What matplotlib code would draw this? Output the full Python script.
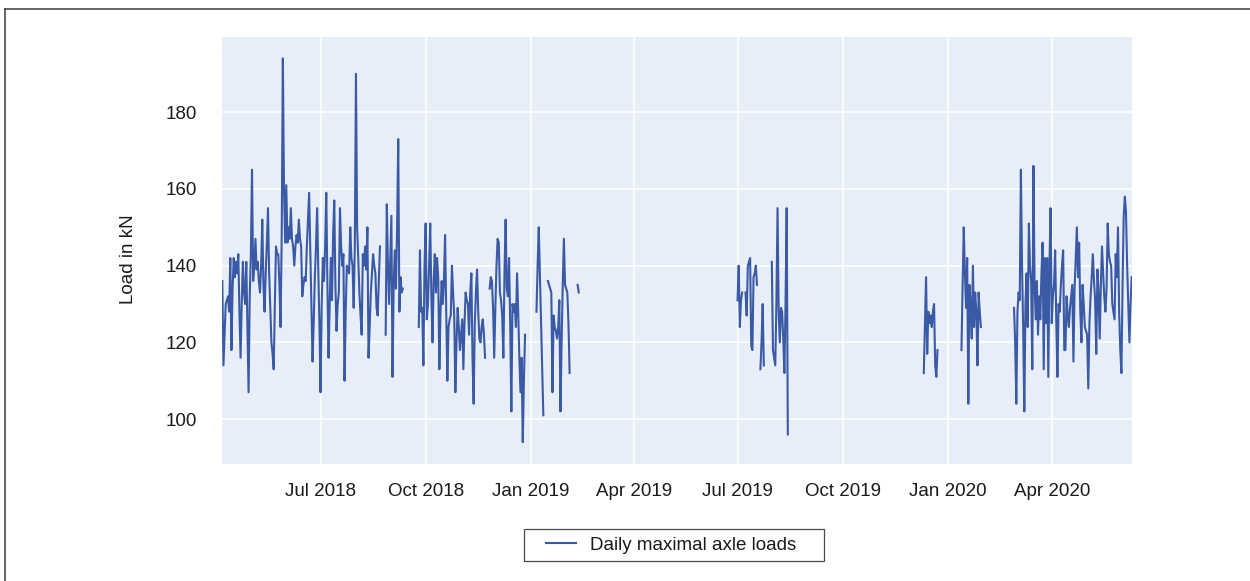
import numpy as np
import pandas as pd
import matplotlib
matplotlib.use("Agg")
import matplotlib.pyplot as plt
import matplotlib.dates as mdates
from matplotlib.lines import Line2D
from matplotlib.legend_handler import HandlerLine2D

nan = np.nan

# daily maximal axle loads in kN, one value per day from each start date
seg_a_start = "2018-04-06"
seg_a = [136, 114, 122, 130, 131, 132, 128, 142, 118, 134,
         142, 137, 141, 138, 143, 128, 116, 130, 141, 133,
         130, 141, 124, 107, 132, 143, 165, 136, 140, 147,
         139, 141, 136, 133, 140, 152, 135, 128, 138, 146,
         155, 138, 129, 120, 117, 113, 130, 145, 143, 143,
         135, 124, 148, 194, 160, 146, 161, 146, 150, 147,
         155, 147, 145, 140, 145, 148, 146, 152, 147, 145,
         132, 135, 137, 136, 145, 152, 159, 144, 130, 115,
         125, 137, 145, 155, 139, 125, 107, 130, 142, 136,
         145, 159, 135, 116, 130, 142, 131, 148, 157, 135,
         123, 130, 133, 155, 145, 140, 143, 110, 128, 140,
         139, 138, 150, 142, 140, 129, 145, 190, 150, 142,
         133, 127, 122, 143, 140, 145, 139, 150, 116, 124,
         133, 138, 143, 140, 138, 129, 127, 136, 145, nan,
         nan, nan, nan, 122, 156, 140, 130, 141, 153, 111,
         135, 144, 134, 150, 173, 128, 137, 133, 134]

seg_b_start = "2018-09-25"
seg_b = [124, 144, 128, 129, 114, 140, 151, 126, 130, 140,
         151, 132, 120, 136, 143, 133, 142, 137, 113, 128,
         136, 130, 136, 148, 128, 110, 124, 126, 127, 140,
         133, 127, 107, 120, 129, 124, 118, 122, 126, 113,
         125, 133, 131, 130, 122, 133, 138, 116, 104, 125,
         133, 139, 128, 121, 120, 124, 126, 122, 116]

seg_c_start = "2018-11-26"
seg_c = [134, 137, 136, 129, 116, 129, 140, 147, 146, 133,
         131, 127, 116, 138, 152, 134, 132, 142, 125, 102,
         130, 128, 130, 124, 138, 128, 116, 107, 116, 94,
         110, 122]

seg_d_start = "2019-01-06"
seg_d = [128, 140, 150, 138, 125, 115, 101, nan, nan, nan,
         136, 135, 134, 133, 107, 127, 124, 123, 121, 124,
         131, 102, 120, 135, 147, 135, 134, 133, 125, 112]

seg_e_start = "2019-02-11"
seg_e = [135, 133]

seg_f_start = "2019-07-01"
seg_f = [131, 140, 124, 131, 133, nan, nan, 133, 127, 140,
         141, 142, 119, 118, 137, 138, 140, 135, nan, nan,
         113, 120, 130, 114, nan, nan, nan, nan, nan, nan,
         141, 118, 116, 114, 130, 155, 128, 120, 129, 128,
         121, 112, 130, 155, 96]

seg_g_start = "2019-12-11"
seg_g = [112, 125, 137, 117, 128, 125, 127, 124, 128, 130,
         114, 111, 118]

seg_h_start = "2020-01-13"
seg_h = [118, 135, 150, 138, 129, 142, 104, 135, 130, 121,
         140, 124, 133, 128, 114, 133, 128, 124]

seg_i_start = "2020-02-28"
seg_i = [129, 120, 104, 128, 133, 131, 165, 140, 124, 102,
         130, 138, 124, 151, 140, 136, 113, 166, 135, 126,
         136, 122, 132, 126, 138, 146, 113, 142, 125, 142,
         111, 140, 155, 125, 132, 135, 144, 125, 111, 130,
         128, 135, 140, 144, 118, 118, 132, 127, 124, 129,
         132, 135, 115, 134, 142, 150, 137, 146, 128, 120,
         135, 130, 124, 123, 122, 108, 125, 132, 137, 143,
         136, 131, 117, 139, 133, 121, 135, 145, 138, 132,
         128, 134, 151, 143, 141, 140, 130, 128, 126, 143,
         137, 150, 128, 118, 112, 135, 153, 158, 154, 140,
         130, 120, 130, 137]

segments = [(seg_a_start, seg_a), (seg_b_start, seg_b), (seg_c_start, seg_c),
            (seg_d_start, seg_d), (seg_e_start, seg_e), (seg_f_start, seg_f),
            (seg_g_start, seg_g), (seg_h_start, seg_h), (seg_i_start, seg_i)]

parts = [pd.Series(vals, index=pd.date_range(start, periods=len(vals), freq="D"))
         for start, vals in segments]
loads = pd.concat(parts)
loads = loads.reindex(pd.date_range(loads.index[0], loads.index[-1], freq="D"))

plt.rcParams['font.family'] = ['Liberation Sans', 'DejaVu Sans']

fig = plt.figure(figsize=(12.5, 5.81), dpi=100)
ax = fig.add_axes([222.3 / 1250, 1 - 464 / 581, 909.4 / 1250, 427 / 581])
ax.set_facecolor('#E8EEF8')
ax.grid(color='white', linewidth=1.1)
ax.set_axisbelow(True)
for sp in ax.spines.values():
    sp.set_visible(False)

line, = ax.plot(loads.index, loads.values, color='#3A5AA6', linewidth=1.5,
                label='Daily maximal axle loads')

ax.set_xlim(loads.index[0], loads.index[-1])
ax.set_ylim(88.3, 199.6)
ax.yaxis.set_major_locator(plt.MultipleLocator(20))
ax.xaxis.set_major_locator(mdates.MonthLocator(bymonth=[1, 4, 7, 10]))
ax.xaxis.set_major_formatter(mdates.DateFormatter('%b %Y'))

ax.tick_params(length=0, labelsize=13.5, colors='#1a1a1a')
ax.tick_params(axis='x', pad=14)
ax.tick_params(axis='y', pad=18)

ax.set_ylabel('Load in kN', fontsize=13.5, color='#1a1a1a')
ax.yaxis.set_label_coords(-0.0935, 0.48)

leg = fig.legend(handles=[line], labels=['Daily maximal axle loads    '],
                 loc='center', bbox_to_anchor=(674 / 1250, 1 - 545 / 581),
                 fontsize=13.5, frameon=True, fancybox=False, framealpha=1,
                 edgecolor='#4a4a4a', borderpad=0.38, handlelength=2.4,
                 handletextpad=0.75,
                 handler_map={line: HandlerLine2D(xpad=0.8)})
leg.get_frame().set_linewidth(0.9)
for t in leg.get_texts():
    t.set_color('#1a1a1a')

# outer frame of the figure (left and top edges visible)
fig.add_artist(Line2D([4.5 / 1250, 4.5 / 1250], [0, 1 - 9 / 581],
                      transform=fig.transFigure, color='#3a3a3a', linewidth=1.1))
fig.add_artist(Line2D([4.5 / 1250, 1], [1 - 9 / 581, 1 - 9 / 581],
                      transform=fig.transFigure, color='#3a3a3a', linewidth=1.1))

fig.savefig('out.png', dpi=100)
